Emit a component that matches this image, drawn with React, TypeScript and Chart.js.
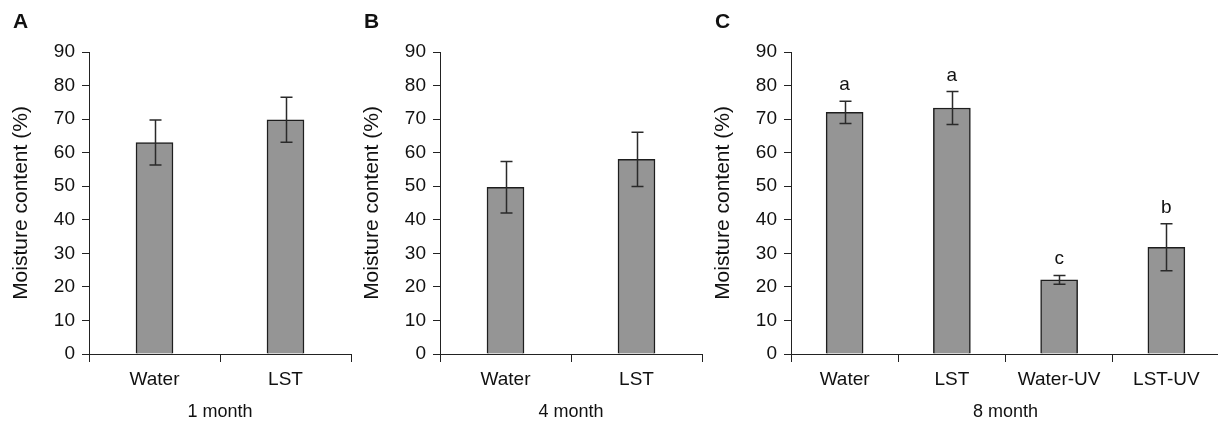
import React, { useEffect, useRef } from "react";
import { Chart, registerables } from "chart.js";
Chart.register(...registerables);

// ---- data ----
const catsA = ["Water", "LST"];
const valsA = [63, 69.8];
const errA = [6.7, 6.7];

const catsB = ["Water", "LST"];
const valsB = [49.7, 58];
const errB = [7.7, 8.1];

const catsC = ["Water", "LST", "Water-UV", "LST-UV"];
const valsC = [72, 73.3, 22.1, 31.8];
const errC = [3.3, 4.9, 1.3, 7.0];
const lettersC = ["a", "a", "c", "b"];

const panelLabels = ["A", "B", "C"];
const xTitles = ["1 month", "4 month", "8 month"];
const yTitle = "Moisture content (%)";
const yMin = 0;
const yMax = 90;
const yStep = 10;

const FONT = '"Liberation Sans", Arial, sans-serif';
const TEXT = "#111";
const LINE = "#222";

const errPlugin = {
  id: "errbars",
  afterDatasetsDraw(chart: any, _args: any, opts: any) {
    const { errs, letters, label } = opts;
    const ctx = chart.ctx;
    const meta = chart.getDatasetMeta(0);
    const ys = chart.scales.y;
    const vals = chart.data.datasets[0].data;
    ctx.save();
    ctx.strokeStyle = "#2a2a2a";
    ctx.lineWidth = 1.5;
    ctx.fillStyle = TEXT;
    ctx.font = `19px ${FONT}`;
    ctx.textAlign = "center";
    ctx.textBaseline = "alphabetic";
    meta.data.forEach((bar: any, i: number) => {
      const x = Math.round(bar.x) + 0.5;
      const top = ys.getPixelForValue(vals[i] + errs[i]);
      const bot = ys.getPixelForValue(vals[i] - errs[i]);
      ctx.beginPath();
      ctx.moveTo(x, top);
      ctx.lineTo(x, bot);
      ctx.moveTo(x - 6, top);
      ctx.lineTo(x + 6, top);
      ctx.moveTo(x - 6, bot);
      ctx.lineTo(x + 6, bot);
      ctx.stroke();
      if (letters && letters[i]) {
        ctx.fillText(letters[i], bar.x, top - 11);
      }
    });
    if (label) {
      ctx.font = `bold 21px ${FONT}`;
      ctx.textAlign = "left";
      ctx.fillText(label, 13, 28);
    }
    ctx.restore();
  },
};

type PanelProps = {
  left: number;
  width: number;
  rightPad: number;
  cats: string[];
  vals: number[];
  errs: number[];
  letters?: string[];
  label: string;
  xTitle: string;
};

function Panel({ left, width, rightPad, cats, vals, errs, letters, label, xTitle }: PanelProps) {
  const ref = useRef<HTMLCanvasElement>(null);
  useEffect(() => {
    if (!ref.current) return;
    const tickFont = { family: FONT, size: 19 };
    const chart = new Chart(ref.current, {
      type: "bar",
      data: {
        labels: cats,
        datasets: [
          {
            data: vals,
            backgroundColor: "#959595",
            borderColor: "#1e1e1e",
            borderWidth: 1.5,
            barThickness: 37,
          },
        ],
      },
      options: {
        responsive: false,
        animation: false,
        devicePixelRatio: 1,
        layout: { padding: { top: 52, right: rightPad, bottom: 0, left: 0 } },
        plugins: {
          legend: { display: false },
          tooltip: { enabled: false },
          errbars: { errs, letters, label },
        } as any,
        scales: {
          x: {
            offset: true,
            grid: {
              display: true,
              drawOnChartArea: false,
              drawTicks: true,
              tickLength: 8,
              color: LINE,
              lineWidth: 1,
            },
            border: { display: true, color: LINE, width: 1 },
            ticks: {
              color: TEXT,
              font: tickFont,
              padding: 6,
              maxRotation: 0,
              autoSkip: false,
            },
            title: {
              display: true,
              text: xTitle,
              color: TEXT,
              font: { family: FONT, size: 18 },
              padding: { top: 0, bottom: 0 },
            },
            afterFit: (s: any) => {
              s.height = 69;
            },
          },
          y: {
            min: yMin,
            max: yMax,
            grid: {
              display: true,
              drawOnChartArea: false,
              drawTicks: true,
              tickLength: 7,
              color: LINE,
              lineWidth: 1,
            },
            border: { display: true, color: LINE, width: 1 },
            ticks: {
              stepSize: yStep,
              color: TEXT,
              font: tickFont,
              padding: 7,
            },
            title: {
              display: true,
              text: yTitle,
              color: TEXT,
              font: { family: FONT, size: 21 },
              padding: { top: 9, bottom: 0 },
            },
            afterFit: (s: any) => {
              s.width = 89;
            },
          },
        } as any,
      },
      plugins: [errPlugin],
    });
    return () => chart.destroy();
  }, []);
  return (
    <canvas
      ref={ref}
      width={width}
      height={423}
      style={{ position: "absolute", left, top: 0, width, height: 423 }}
    />
  );
}

export default function App() {
  return (
    <div
      style={{
        position: "absolute",
        left: 0,
        top: 0,
        width: 1218,
        height: 423,
        overflow: "hidden",
        background: "#fff",
      }}
    >
      <Panel left={0} width={356} rightPad={5} cats={catsA} vals={valsA} errs={errA} label={panelLabels[0]} xTitle={xTitles[0]} />
      <Panel left={351} width={356} rightPad={5} cats={catsB} vals={valsB} errs={errB} label={panelLabels[1]} xTitle={xTitles[1]} />
      <Panel left={702} width={518} rightPad={0} cats={catsC} vals={valsC} errs={errC} letters={lettersC} label={panelLabels[2]} xTitle={xTitles[2]} />
    </div>
  );
}
